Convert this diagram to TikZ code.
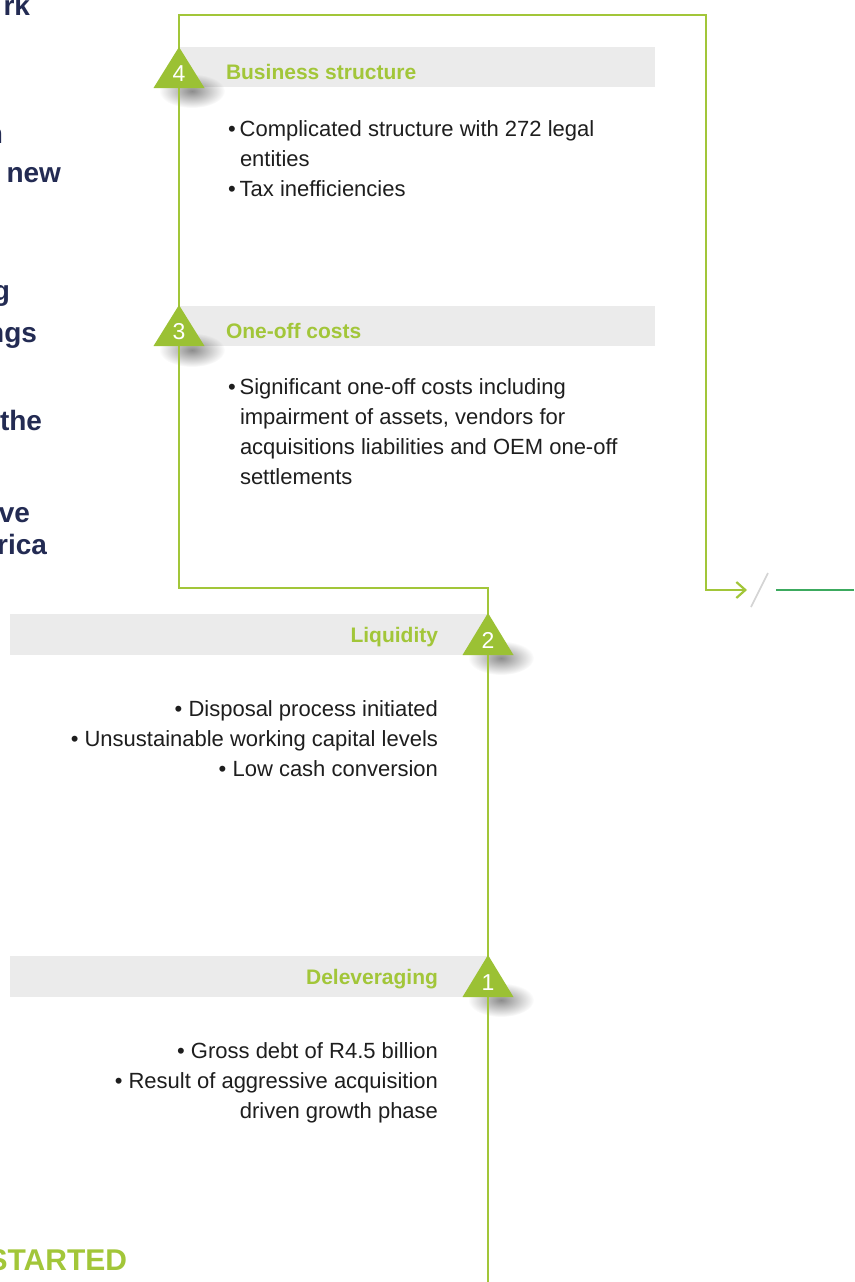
\documentclass[tikz,border=0pt]{standalone}
\usepackage{fontspec}
\setmainfont{Liberation Sans}
\usetikzlibrary{fadings,arrows.meta}

\definecolor{lime}{RGB}{162,198,57}
\definecolor{limedark}{RGB}{155,193,52}
\definecolor{barbg}{RGB}{235,235,235}
\definecolor{navy}{RGB}{35,43,83}
\definecolor{bodytext}{RGB}{30,30,30}
\definecolor{slashgray}{RGB}{212,212,212}
\definecolor{exitgreen}{RGB}{60,170,95}

\tikzfading[name=softedge, inner color=transparent!0, outer color=transparent!100]

\begin{document}
\begin{tikzpicture}[x=1pt,y=-1pt,
  txt/.style={inner sep=0pt, outer sep=0pt},
  body/.style={txt, text=bodytext, font=\fontsize{22}{30}\selectfont},
  head/.style={txt, text=lime, font=\bfseries\fontsize{21}{25}\selectfont},
  side/.style={txt, text=navy, font=\bfseries\fontsize{28}{34}\selectfont, anchor=base east},
  bar/.style={fill=barbg, draw=none},
  route/.style={draw=lime, line width=2.2pt},
  marker/.style={fill=limedark, draw=none},
  digit/.style={txt, text=white, font=\fontsize{23}{23}\selectfont, anchor=base},
  softshadow/.style={fill=black, opacity=0.45, path fading=softedge}
]
\useasboundingbox (0,0) rectangle (854,1282);
\fill[white] (0,0) rectangle (854,1282);

% fragments of the neighbouring column
\node[side] (s1) at (30,16) {rk};
\node[side] (s2) at (3,143) {n};
\node[side] (s3) at (61,182) {new};
\node[side] (s4) at (10,300) {g};
\node[side] (s5) at (37,342) {ngs};
\node[side] (s6) at (42,430) {the};
\node[side] (s7) at (30,522) {ve};
\node[side] (s8) at (47,554) {rica};
\node[txt, text=lime, font=\bfseries\fontsize{30}{34}\selectfont, anchor=base east] (st) at (127,1270) {STARTED};

% heading bars
\path[bar] (179,47) rectangle (655,87);
\path[bar] (179,306) rectangle (655,346);
\path[bar] (10,614) rectangle (488,655);
\path[bar] (10,956) rectangle (488,997);

% soft shadows under the markers
\path[softshadow] (192,91) ellipse (33 and 17);
\path[softshadow] (192,350) ellipse (33 and 17);
\path[softshadow] (501,658) ellipse (33 and 17);
\path[softshadow] (501,1000) ellipse (33 and 17);

% route
\coordinate (start) at (488,1282);
\coordinate (c1) at (488,588);
\coordinate (c2) at (179,588);
\coordinate (c3) at (179,15);
\coordinate (c4) at (706,15);
\coordinate (c5) at (706,590);
\coordinate (tip) at (747,590);
\draw[route, -{Straight Barb[length=9pt,width=16pt]}]
  (start) -- (c1) -- (c2) -- (c3) -- (c4) -- (c5) -- (tip);

% break mark and continuation
\coordinate (sl1) at (751,607);
\coordinate (sl2) at (768,573);
\draw[slashgray, line width=1.6pt] (sl1) -- (sl2);
\coordinate (g1) at (776,590);
\coordinate (g2) at (854,590);
\draw[exitgreen, line width=2.2pt] (g1) -- (g2);

% numbered markers
\path[marker] (179,47) -- (153.5,88) -- (204.5,88) -- cycle;
\path[marker] (179,305) -- (153.5,346) -- (204.5,346) -- cycle;
\path[marker] (488,613) -- (462.5,655) -- (513.5,655) -- cycle;
\path[marker] (488,955) -- (462.5,997) -- (513.5,997) -- cycle;
\node[digit] (n4) at (179,81) {4};
\node[digit] (n3) at (179,339) {3};
\node[digit] (n2) at (488,648) {2};
\node[digit] (n1) at (488,990) {1};

% 4 Business structure
\node[head, anchor=base west] (h4) at (226,79) {Business structure};
\node[body, anchor=base west] (b4a) at (228,136) {\textbullet\hspace{4pt}Complicated structure with 272 legal};
\node[body, anchor=base west] (b4b) at (240,166) {entities};
\node[body, anchor=base west] (b4c) at (228,196) {\textbullet\hspace{4pt}Tax inefficiencies};

% 3 One-off costs
\node[head, anchor=base west] (h3) at (226,338) {One-off costs};
\node[body, anchor=base west] (b3a) at (228,394) {\textbullet\hspace{4pt}Significant one-off costs including};
\node[body, anchor=base west] (b3b) at (240,424) {impairment of assets, vendors for};
\node[body, anchor=base west] (b3c) at (240,454) {acquisitions liabilities and OEM one-off};
\node[body, anchor=base west] (b3d) at (240,484) {settlements};

% 2 Liquidity
\node[head, anchor=base east] (h2) at (438,642) {Liquidity};
\node[body, anchor=base east] (b2a) at (438,716) {\textbullet\ Disposal process initiated};
\node[body, anchor=base east] (b2b) at (438,746) {\textbullet\ Unsustainable working capital levels};
\node[body, anchor=base east] (b2c) at (438,776) {\textbullet\ Low cash conversion};

% 1 Deleveraging
\node[head, anchor=base east] (h1) at (438,984) {Deleveraging};
\node[body, anchor=base east] (b1a) at (438,1058) {\textbullet\ Gross debt of R4.5 billion};
\node[body, anchor=base east] (b1b) at (438,1088) {\textbullet\ Result of aggressive acquisition};
\node[body, anchor=base east] (b1c) at (438,1118) {driven growth phase};
\end{tikzpicture}
\end{document}
